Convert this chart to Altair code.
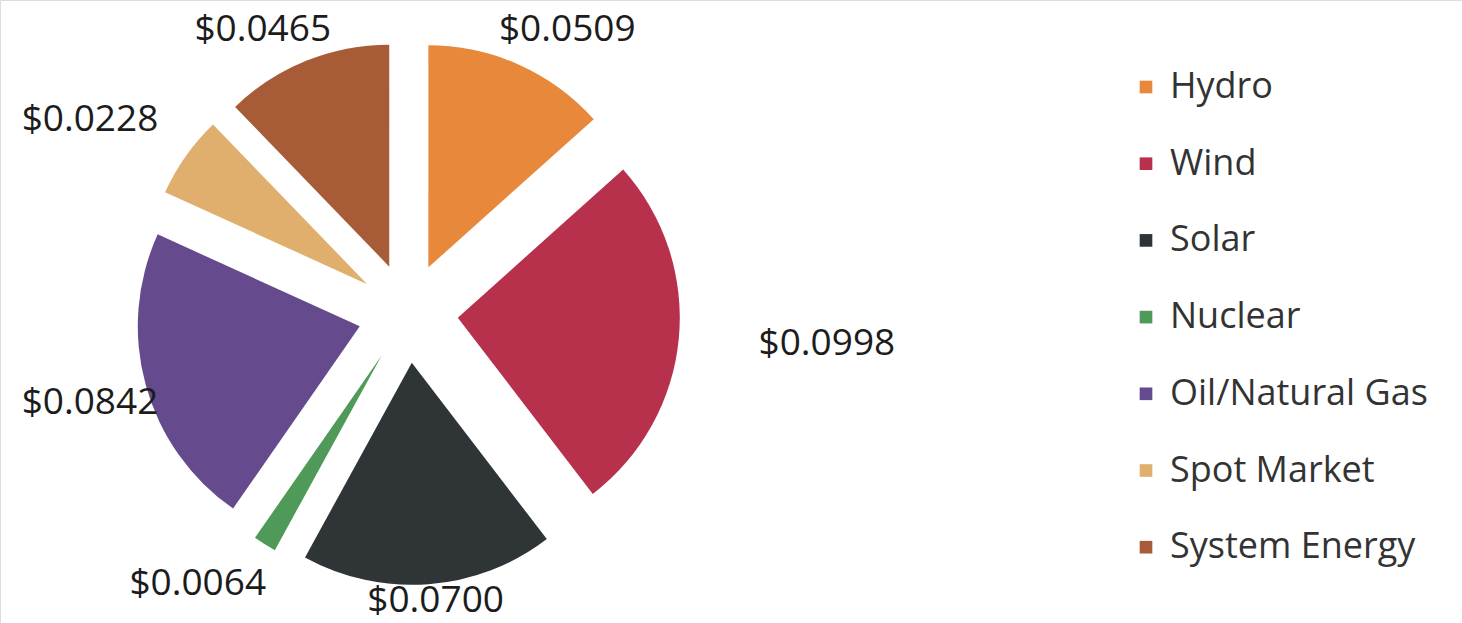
import altair as alt
import pandas as pd

# ---- data ----
categories = ["Hydro", "Wind", "Solar", "Nuclear", "Oil/Natural Gas", "Spot Market", "System Energy"]
costs = [0.0509, 0.0998, 0.0700, 0.0064, 0.0842, 0.0228, 0.0465]
colors = ["#E8883B", "#B7304C", "#2F3437", "#4F9A58", "#654B8D", "#E1AF6D", "#A75B37"]

# ---- layout parameters ----
W, H = 1462, 623
CX, CY = 408, 313       # pie centre (px)
R = 222                 # slice radius
EXPLODE = 50            # explosion distance of each slice
GAP = -6                # gap between slice edge and label box
LW, LH = 138, 40        # approx. label box size
HSTRETCH = 1.25         # labels spread a little wider horizontally
XMIN, XMAX = 90, 1000   # keep labels inside the chart area
YMIN, YMAX = 30, 601

df = pd.DataFrame({"source": categories, "cost": costs, "idx": list(range(len(categories)))})

base = (
    alt.Chart(df)
    .transform_joinaggregate(total="sum(cost)")
    .transform_window(cum="sum(cost)", sort=[alt.SortField("idx")], frame=[None, 0])
    .transform_calculate(t1="2*PI*(datum.cum - datum.cost)/datum.total")
    .transform_calculate(t2="2*PI*datum.cum/datum.total")
    .transform_calculate(mid="(datum.t1 + datum.t2)/2")
    .transform_calculate(s="sin(datum.mid)")
    .transform_calculate(c="cos(datum.mid)")
    .transform_calculate(px=f"{CX} + {EXPLODE}*datum.s")
    .transform_calculate(py=f"{CY} - {EXPLODE}*datum.c")
    .transform_calculate(ext=f"abs(datum.s)*{LW/2} + abs(datum.c)*{LH/2}")
    .transform_calculate(L=f"{EXPLODE}+{R}+{GAP}+datum.ext")
    .transform_calculate(lx=f"clamp({CX} + {HSTRETCH}*datum.L*datum.s, {XMIN}, {XMAX})")
    .transform_calculate(ly=f"clamp({CY} - datum.L*datum.c, {YMIN}, {YMAX})")
    .transform_calculate(label="'$' + format(datum.cost, '.4f')")
)

arcs = base.mark_arc(outerRadius=R).encode(
    theta=alt.Theta("t1:Q", scale=None),
    theta2="t2:Q",
    x=alt.X("px:Q", scale=None, axis=None),
    y=alt.Y("py:Q", scale=None, axis=None),
    color=alt.Color(
        "source:N",
        scale=alt.Scale(domain=categories, range=colors),
        sort=categories,
        legend=alt.Legend(
            title=None,
            orient="none",
            legendX=1128,
            legendY=69,
            symbolType="square",
            symbolSize=160,
            symbolStrokeWidth=0,
            labelFont="Open Sans",
            labelFontSize=36,
            labelColor="#333333",
            labelOffset=6,
            labelLimit=0,
            rowPadding=40.7,
        ),
    ),
)

labels = base.mark_text(
    font="Open Sans", fontSize=37, color="#1c1c1c", align="center", baseline="middle"
).encode(
    x=alt.X("lx:Q", scale=None, axis=None),
    y=alt.Y("ly:Q", scale=None, axis=None),
    text="label:N",
)

chart = (
    alt.layer(arcs, labels)
    .properties(width=W, height=H, autosize=alt.AutoSizeParams(type="none"), padding=0)
    .configure_view(stroke=None)
    .configure(background="white")
)

chart.save("out.html", embed_options={"renderer": "svg", "actions": False})
